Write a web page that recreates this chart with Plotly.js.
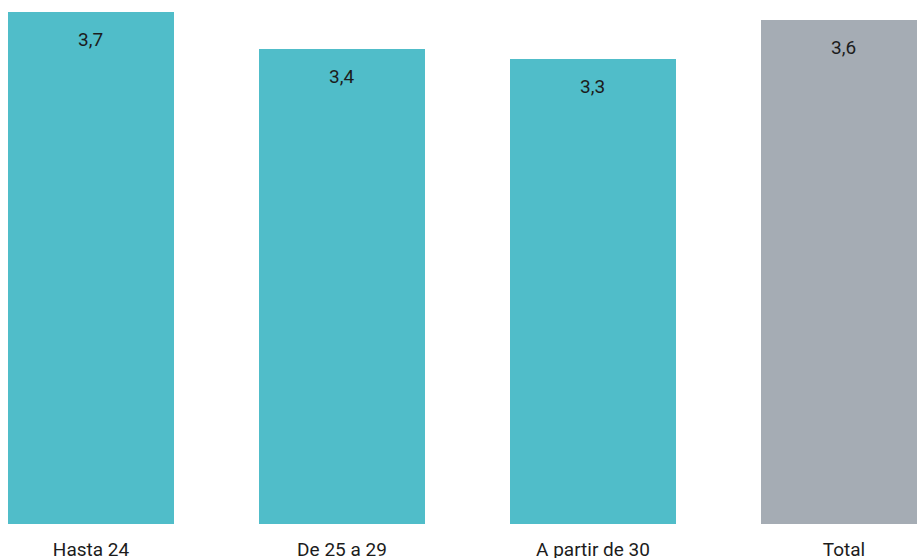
<!DOCTYPE html>
<html>
<head>
<meta charset="utf-8">
<script src="https://cdn.plot.ly/plotly-3.0.1.min.js"></script>
<style>
  html, body { margin: 0; padding: 0; background: #ffffff; }
  #chart { width: 917px; height: 558px; }
</style>
</head>
<body>
<div id="chart"></div>
<script>
// Data
const categories = ["Hasta 24", "De 25 a 29", "A partir de 30", "Total"];
const values = [3.7, 3.43, 3.36, 3.64];
const valueLabels = ["3,7", "3,4", "3,3", "3,6"];

const teal = "rgb(80,189,201)";
const grey = "rgb(165,172,180)";
const barColors = categories.map(c => c === "Total" ? grey : teal);

const trace = {
  type: "bar",
  x: categories,
  y: values,
  marker: { color: barColors, line: { width: 0 } },
  width: 0.661,
  hoverinfo: "none"
};

const annotations = categories.map((c, i) => ({
  x: c,
  y: values[i],
  xref: "x",
  yref: "y",
  text: valueLabels[i],
  showarrow: false,
  yanchor: "middle",
  xanchor: "center",
  yshift: -27,
  font: { family: "Roboto, 'DejaVu Sans', sans-serif", size: 19, color: "#1c1c1c" }
}));

const layout = {
  width: 917,
  height: 558,
  margin: { l: 0, r: 0, t: 0, b: 34, pad: 0 },
  paper_bgcolor: "#ffffff",
  plot_bgcolor: "#ffffff",
  showlegend: false,
  bargap: 0,
  xaxis: {
    type: "category",
    range: [-0.3625, 3.291],
    showgrid: false,
    zeroline: false,
    showline: false,
    ticks: "",
    ticklabelstandoff: 12,
    automargin: false,
    tickfont: { family: "Roboto, 'DejaVu Sans', sans-serif", size: 19, color: "#1c1c1c" }
  },
  yaxis: {
    range: [0, 3.787],
    showgrid: false,
    zeroline: false,
    showline: false,
    showticklabels: false,
    ticks: "",
    automargin: false
  },
  annotations: annotations
};

Plotly.newPlot("chart", [trace], layout, { staticPlot: true, displayModeBar: false });
</script>
</body>
</html>
